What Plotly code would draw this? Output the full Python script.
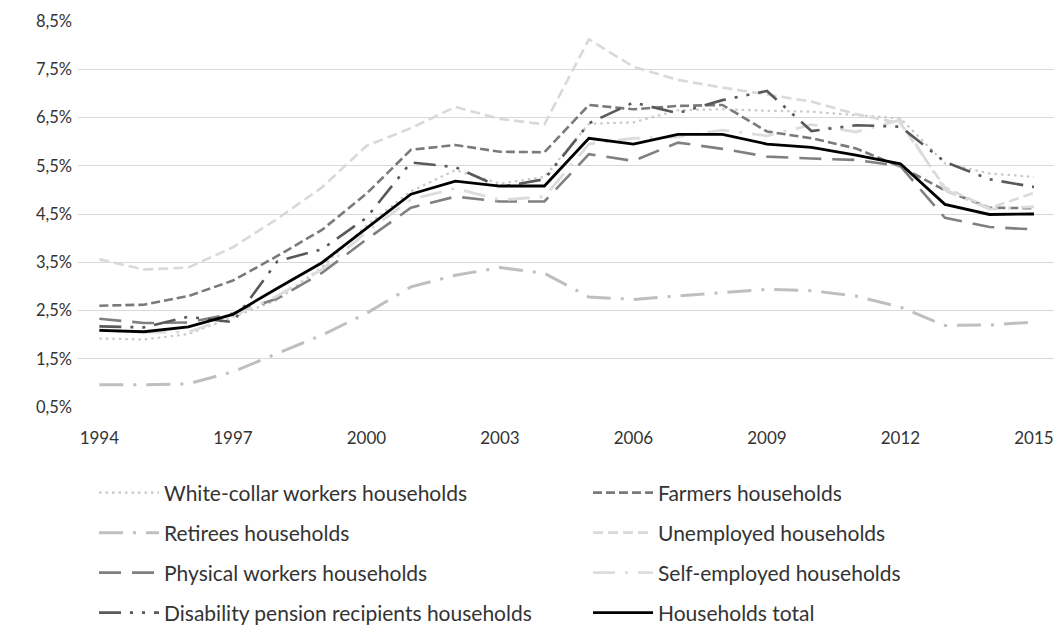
import plotly.graph_objects as go

years = list(range(1994, 2016))

white_collar = [1.92, 1.90, 2.01, 2.37, 2.72, 3.40, 4.26, 4.97, 5.41, 5.13, 5.27,
                6.37, 6.40, 6.65, 6.67, 6.64, 6.62, 6.55, 6.48, 5.55, 5.34, 5.27]
farmers = [2.60, 2.62, 2.80, 3.12, 3.63, 4.17, 4.92, 5.83, 5.93, 5.79, 5.78,
           6.76, 6.67, 6.74, 6.76, 6.21, 6.07, 5.86, 5.48, 4.99, 4.63, 4.62]
retirees = [0.96, 0.96, 0.98, 1.23, 1.61, 1.99, 2.44, 2.99, 3.23, 3.39, 3.27,
            2.78, 2.73, 2.80, 2.87, 2.94, 2.91, 2.80, 2.57, 2.19, 2.20, 2.26]
unemployed = [3.56, 3.35, 3.39, 3.81, 4.40, 5.05, 5.91, 6.28, 6.72, 6.47, 6.36,
              8.12, 7.55, 7.28, 7.12, 6.97, 6.83, 6.57, 6.38, 5.05, 4.62, 4.94]
physical = [2.33, 2.24, 2.25, 2.44, 2.75, 3.28, 3.97, 4.63, 4.86, 4.76, 4.76,
            5.74, 5.60, 5.98, 5.85, 5.69, 5.65, 5.62, 5.49, 4.42, 4.23, 4.18]
self_employed = [2.10, 2.05, 2.05, 2.38, 2.80, 3.35, 4.12, 4.80, 5.03, 4.79, 4.86,
                 5.95, 6.07, 6.10, 6.24, 6.12, 6.35, 6.20, 6.45, 5.00, 4.60, 4.65]
disability = [2.17, 2.15, 2.37, 2.26, 3.52, 3.77, 4.42, 5.57, 5.47, 5.06, 5.22,
              6.38, 6.81, 6.59, 6.86, 7.05, 6.22, 6.34, 6.31, 5.58, 5.22, 5.06]
total = [2.09, 2.06, 2.16, 2.42, 2.96, 3.49, 4.20, 4.91, 5.18, 5.08, 5.08,
         6.07, 5.95, 6.15, 6.15, 5.95, 5.88, 5.72, 5.54, 4.70, 4.49, 4.50]

y_ticks = [0.5, 1.5, 2.5, 3.5, 4.5, 5.5, 6.5, 7.5, 8.5]
y_tick_text = ["0,5%", "1,5%", "2,5%", "3,5%", "4,5%", "5,5%", "6,5%", "7,5%", "8,5%"]
x_ticks = [1994, 1997, 2000, 2003, 2006, 2009, 2012, 2015]

FONT = "Lato"
TEXT = "#333333"

# name, values, colour, width, dash pattern
series = [
    ("White-collar workers households", white_collar, "#c8c8c8", 2.2, "2.5px,4px"),
    ("Farmers households", farmers, "#7a7a7a", 2.6, "9px,4px"),
    ("Retirees households", retirees, "#bfbfbf", 3.0, "24px,10px,3px,10px"),
    ("Unemployed households", unemployed, "#d9d9d9", 2.6, "10px,5px"),
    ("Physical workers households", physical, "#808080", 2.6, "22px,11px"),
    ("Self-employed households", self_employed, "#dcdcdc", 2.8, "22px,10px,3px,10px"),
    ("Disability pension recipients households", disability, "#595959", 2.6,
     "22px,9px,3px,9px,3px,9px"),
    ("Households total", total, "#000000", 2.8, "solid"),
]

W, H = 1056, 625
ml, mr, mt, mb = 78, 2, 21, 218
plot_h = H - mt - mb
plot_w = W - ml - mr

# legend entries laid out in two columns and four rows below the plot
col_x = [94, 588]
row_y = [493, 533, 573, 613]

fig = go.Figure()
legends = {}
for i, (name, vals, color, width, dash) in enumerate(series):
    key = "legend" if i == 0 else f"legend{i + 1}"
    fig.add_trace(go.Scatter(
        x=years, y=vals, name=name, mode="lines",
        line=dict(color=color, width=width, dash=dash),
        legend=key,
    ))
    cx = col_x[i % 2]
    cy = row_y[i // 2]
    legends[key] = dict(
        orientation="h",
        itemwidth=60,
        x=(cx - ml) / plot_w, xanchor="left",
        y=-(cy - (H - mb)) / plot_h, yanchor="middle",
        bgcolor="rgba(0,0,0,0)",
        font=dict(family=FONT, size=21, color=TEXT),
    )

fig.update_layout(
    width=W, height=H,
    margin=dict(l=ml, r=mr, t=mt, b=mb, pad=0, autoexpand=False),
    paper_bgcolor="white", plot_bgcolor="white",
    font=dict(family=FONT, size=17, color=TEXT),
    xaxis=dict(
        range=[1993.52, 2015.45], tickvals=x_ticks, ticktext=[str(v) for v in x_ticks],
        showgrid=False, zeroline=False, showline=False, ticks="",
        ticklabelstandoff=19, automargin=False,
        tickfont=dict(family=FONT, size=17, color=TEXT),
    ),
    yaxis=dict(
        range=[0.5, 8.5], tickvals=y_ticks, ticktext=y_tick_text,
        showgrid=True, gridcolor="#d9d9d9", gridwidth=1.2,
        zeroline=False, showline=False, ticks="",
        ticklabelstandoff=5, automargin=False,
        tickfont=dict(family=FONT, size=16.5, color=TEXT),
    ),
    showlegend=True,
    **legends,
)

fig.write_html("out.html")
